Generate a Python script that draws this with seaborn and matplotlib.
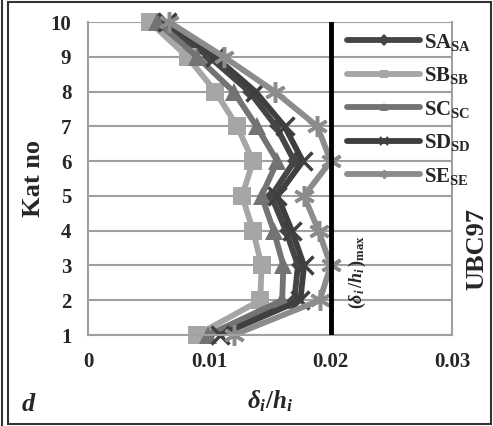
import seaborn as sns
import matplotlib.pyplot as plt
from matplotlib.lines import Line2D
from matplotlib.patches import Rectangle

# storey drift ratios (d panel, UBC97)
floors = [1, 2, 3, 4, 5, 6, 7, 8, 9, 10]
sa = [0.0100, 0.0170, 0.0173, 0.0163, 0.0151, 0.0170, 0.0155, 0.0133, 0.0100, 0.0058]
sb = [0.0090, 0.0142, 0.0143, 0.0136, 0.0127, 0.0136, 0.0123, 0.0105, 0.0082, 0.0051]
sc = [0.0099, 0.0160, 0.0161, 0.0153, 0.0143, 0.0156, 0.0139, 0.0120, 0.0090, 0.0057]
sd = [0.0109, 0.0175, 0.0178, 0.0168, 0.0156, 0.0177, 0.0162, 0.0138, 0.0105, 0.0065]
se = [0.0120, 0.0191, 0.0200, 0.0190, 0.0178, 0.0200, 0.0189, 0.0154, 0.0112, 0.0067]
names = ["SA", "SB", "SC", "SD", "SE"]
drift_limit = 0.02

series = [sa, sb, sc, sd, se]
colors = ["#454545", "#a6a6a6", "#737373", "#3f3f3f", "#8c8c8c"]
markers = ["D", "s", "^", "x", (6, 2, 0)]
msizes = [7, 13, 13, 13, 15]

sns.set_style("white")
plt.rcParams["font.family"] = ["Liberation Serif", "DejaVu Serif"]
plt.rcParams["mathtext.fontset"] = "custom"
plt.rcParams["mathtext.rm"] = "Liberation Serif:bold"
plt.rcParams["mathtext.it"] = "Liberation Serif:bold:italic"
plt.rcParams["mathtext.bf"] = "Liberation Serif:bold"

fig = plt.figure(figsize=(4.93, 4.26), dpi=100)
fig.patch.set_facecolor("white")
# chart frame, plus the outer page edge on the left
fig.add_artist(Rectangle((8 / 493, 2 / 426), 483 / 493, 422 / 426, transform=fig.transFigure,
                         fill=False, edgecolor="#333333", lw=1.5))
fig.add_artist(Line2D([1.5 / 493, 1.5 / 493], [0, 1], transform=fig.transFigure,
                      color="#333333", lw=1.5))

ax = fig.add_axes([0.1785, 0.2136, 0.7385, 0.7344])

for vals, c, m, ms in zip(series, colors, markers, msizes):
    sns.lineplot(x=vals, y=floors, orient="y", sort=False, color=c, lw=4.2,
                 marker=m, markersize=ms, markeredgewidth=2.5 if m in ("x", (6, 2, 0)) else 0,
                 markeredgecolor=c, clip_on=False, ax=ax, legend=False)

ax.plot([drift_limit, drift_limit], [1, 10], color="black", lw=3.5, zorder=5)
ax.text(0.0222, 2.8, r"$(\delta_i\,/h_i\,)_{\mathrm{max}}$", rotation=90,
        ha="center", va="center", fontsize=13)

ax.set_xlim(0, 0.03)
ax.set_ylim(1, 10)
ax.set_xticks([0, 0.01, 0.02, 0.03])
ax.set_xticklabels(["0", "0.01", "0.02", "0.03"])
ax.set_yticks(floors)
ax.grid(axis="y", color="#a0a0a0", lw=1.5)
ax.spines["top"].set_visible(False)
for s in ["left", "right", "bottom"]:
    ax.spines[s].set_color("#a0a0a0")
    ax.spines[s].set_linewidth(1.5)
ax.tick_params(axis="both", length=5, width=1.2, color="#a0a0a0", labelsize=15, pad=7)
for lab in ax.get_xticklabels() + ax.get_yticklabels():
    lab.set_fontweight("bold")

ax.set_ylabel("Kat no", fontsize=19, fontweight="bold", labelpad=4)
ax.set_xlabel(r"$\delta_i/h_i$", fontsize=18, labelpad=12)

handles = [Line2D([], [], color=c, lw=4.2, marker=m, markersize=6,
                  markeredgewidth=1.5 if m in ("x", (6, 2, 0)) else 0, markeredgecolor=c)
           for c, m in zip(colors, markers)]
labels = [n + r"$_{\mathrm{" + n + "}}$" for n in names]
ax.legend(handles, labels, loc="upper left", bbox_to_anchor=(0.66, 1.03), frameon=False,
          handlelength=3.5, handletextpad=0.2, labelspacing=0.6,
          prop={"weight": "bold", "size": 15})

fig.text(0.968, 0.415, "UBC97", rotation=90, ha="center", va="center",
         fontsize=19, fontweight="bold")
fig.text(0.045, 0.035, "d", fontsize=19, fontweight="bold", fontstyle="italic")

fig.savefig("out.png", dpi=100)
